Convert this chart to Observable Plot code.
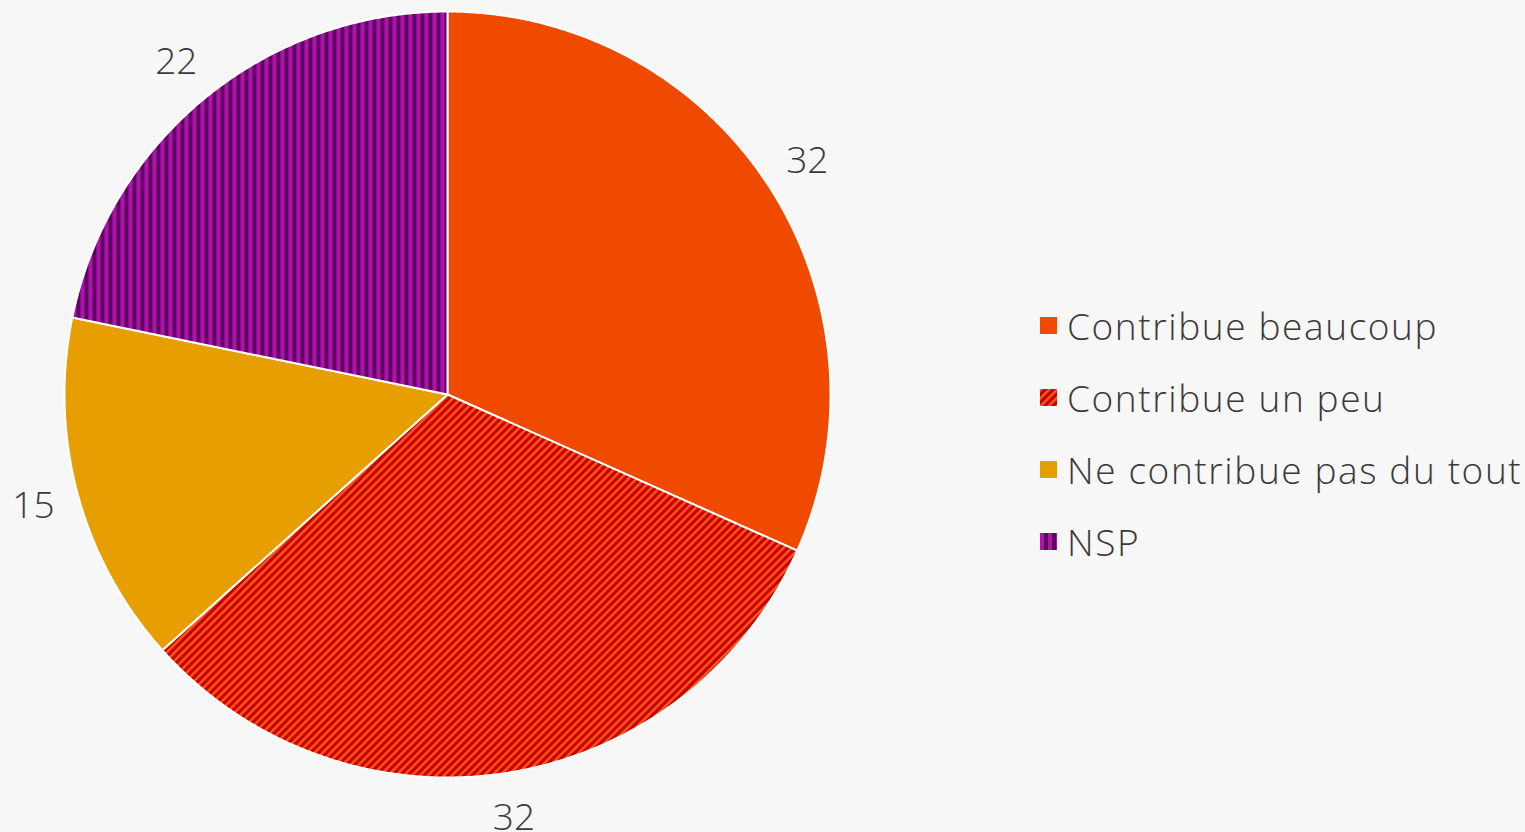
<!DOCTYPE html>
<html>
<head>
<meta charset="utf-8">
<script src="https://cdn.jsdelivr.net/npm/d3@7"></script>
<script src="https://cdn.jsdelivr.net/npm/@observablehq/plot@0.6"></script>
<style>
  html, body { margin: 0; padding: 0; background: #f7f7f7; }
  body { width: 1525px; height: 832px; position: relative; overflow: hidden; font-family: "Open Sans", "Noto Sans", sans-serif; }
  #chart { position: absolute; left: 0; top: 0; }
  #legend { position: absolute; left: 1040px; top: 289px; }
  .item { display: flex; align-items: center; height: 72px; font-size: 37px; font-weight: 300; letter-spacing: 1.6px; color: #3a3a3a; white-space: nowrap; }
  .item svg { margin-right: 10px; }
</style>
</head>
<body>
<div id="chart"></div>
<div id="legend"></div>
<script>
const categories = ["Contribue beaucoup", "Contribue un peu", "Ne contribue pas du tout", "NSP"];
const values = [32, 32, 15, 22];
const fills = ["#ef4a00", "url(#stripeRed)", "#e69e00", "url(#stripePurple)"];

const pie = d3.pie().sort(null).value(d => d)(values);

// slice outlines in unit coordinates (radius 1), angle 0 at top, clockwise
const slices = pie.map((p) => {
  const pts = [{x: 0, y: 0}];
  const n = Math.max(2, Math.ceil((p.endAngle - p.startAngle) / 0.01));
  for (let k = 0; k <= n; k++) {
    const a = p.startAngle + (p.endAngle - p.startAngle) * k / n;
    pts.push({x: Math.sin(a), y: Math.cos(a)});
  }
  pts.push({x: 0, y: 0});
  return pts;
});
const labelR = 1.12;
const labels = pie.map((p, i) => {
  const a = (p.startAngle + p.endAngle) / 2;
  return {x: labelR * Math.sin(a), y: labelR * Math.cos(a), text: String(values[i])};
});

const cx = 447, cy = 394, R = 383;
const plot = Plot.plot({
  width: 900,
  height: 832,
  margin: 0,
  style: {background: "transparent", overflow: "visible"},
  x: {domain: [-1, 1], range: [cx - R, cx + R], axis: null},
  y: {domain: [1, -1], range: [cy - R, cy + R], axis: null},
  marks: [
    ...slices.map((s, i) => Plot.line(s, {x: "x", y: "y", fill: fills[i], stroke: "#ffffff", strokeWidth: 2, strokeLinejoin: "round", curve: "linear"})),
    Plot.text(labels, {x: "x", y: "y", text: "text", fontSize: 37, fontWeight: 300, fill: "#3a3a3a", fontFamily: "Open Sans, Noto Sans, sans-serif"})
  ]
});

const defsHTML = `
<defs>
  <pattern id="stripeRed" patternUnits="userSpaceOnUse" width="5.66" height="5.66" patternTransform="rotate(45)">
    <rect width="5.66" height="5.66" fill="#c80000"/>
    <rect width="2.4" height="5.66" fill="#ff5a1e"/>
  </pattern>
  <pattern id="stripePurple" patternUnits="userSpaceOnUse" width="8" height="8">
    <rect width="8" height="8" fill="#5e065e"/>
    <rect width="4" height="8" fill="#b012b0"/>
  </pattern>
</defs>`;
d3.select(plot).insert("g", ":first-child").html(defsHTML);
document.getElementById("chart").appendChild(plot);

const legend = d3.select("#legend");
categories.forEach((c, i) => {
  const item = legend.append("div").attr("class", "item");
  const sw = item.append("svg").attr("width", 17).attr("height", 17);
  sw.html(defsHTML.replace(/id="stripe/g, `id="lg${i}stripe`) + `<rect width="17" height="17" fill="${fills[i].replace('#stripe', '#lg' + i + 'stripe')}"/>`);
  item.append("span").text(c);
});
</script>
</body>
</html>
